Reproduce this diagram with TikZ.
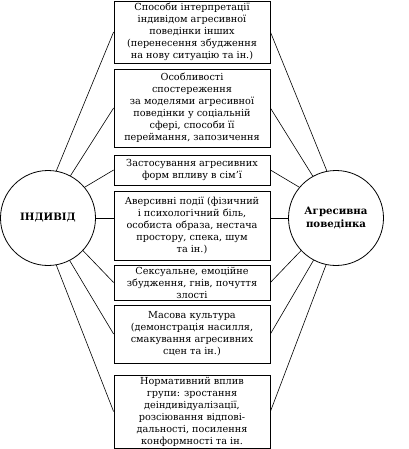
\documentclass[tikz,border=0pt]{standalone}
\usepackage{fontspec}
\setmainfont{DejaVu Serif}
\usepackage{tikz}
\usetikzlibrary{positioning}

\begin{document}
\begin{tikzpicture}[x=1pt, y=-1pt,
  every node/.style={font=\fontsize{9.7}{12}\selectfont},
  factor/.style={draw, line width=0.8pt, align=center, inner sep=1.5pt, minimum width=156pt},
  pole/.style={draw, circle, line width=0.8pt, minimum size=95pt, align=center, font=\fontsize{10.2}{12.5}\selectfont\bfseries},
  link/.style={line width=0.6pt}]
\useasboundingbox (0,0) rectangle (408,449);
\node[pole] (ind) at (48,218) {ІНДИВІД};
\node[pole] (agr) at (336,218) {Агресивна\\поведінка};
% factors between the two poles
\node[factor, minimum height=62pt] (interp) at (192,32) {Способи інтерпретації\\індивідом агресивної\\поведінки інших\\(перенесення збудження\\на нову ситуацію та ін.)};
\node[factor, minimum height=78pt] (model) at (192,108) {Особливості\\спостереження\\за моделями агресивної\\поведінки у соціальній\\сфері, способи її\\переймання, запозичення};
\node[factor, minimum height=30pt] (family) at (192,170) {Застосування агресивних\\форм впливу в сім’ї};
\node[factor, minimum height=69pt] (avers) at (192,225.5) {Аверсивні події (фізичний\\і психологічний біль,\\особиста образа, нестача\\простору, спека, шум\\та ін.)};
\node[factor, minimum height=35pt] (arous) at (192,282.5) {Сексуальне, емоційне\\збудження, гнів, почуття\\злості};
\node[factor, minimum height=58pt] (mass) at (192,334) {Масова культура\\(демонстрація насилля,\\смакування агресивних\\сцен та ін.)};
\node[factor, minimum height=73pt] (group) at (192,411.5) {Нормативний вплив\\групи: зростання\\деіндивідуалізації,\\розсіювання відпові-\\дальності, посилення\\конформності та ін.};
% left side
\draw[link] (ind.80) -- (interp.west); \draw[link] (ind.62) -- (model.west); \draw[link] (ind.40) -- (family.west);
\draw[link] (ind.east) -- (ind.east -| avers.west); \draw[link] (ind.-43) -- (arous.west);
\draw[link] (ind.-63) -- (mass.west); \draw[link] (ind.-80) -- (group.west);
% right side
\draw[link] (agr.101) -- (interp.east); \draw[link] (agr.119) -- (model.east); \draw[link] (agr.140) -- (family.east);
\draw[link] (agr.west) -- (agr.west -| avers.east); \draw[link] (agr.223) -- (arous.east);
\draw[link] (agr.242) -- (mass.east); \draw[link] (agr.258) -- (group.east);
\end{tikzpicture}
\end{document}
